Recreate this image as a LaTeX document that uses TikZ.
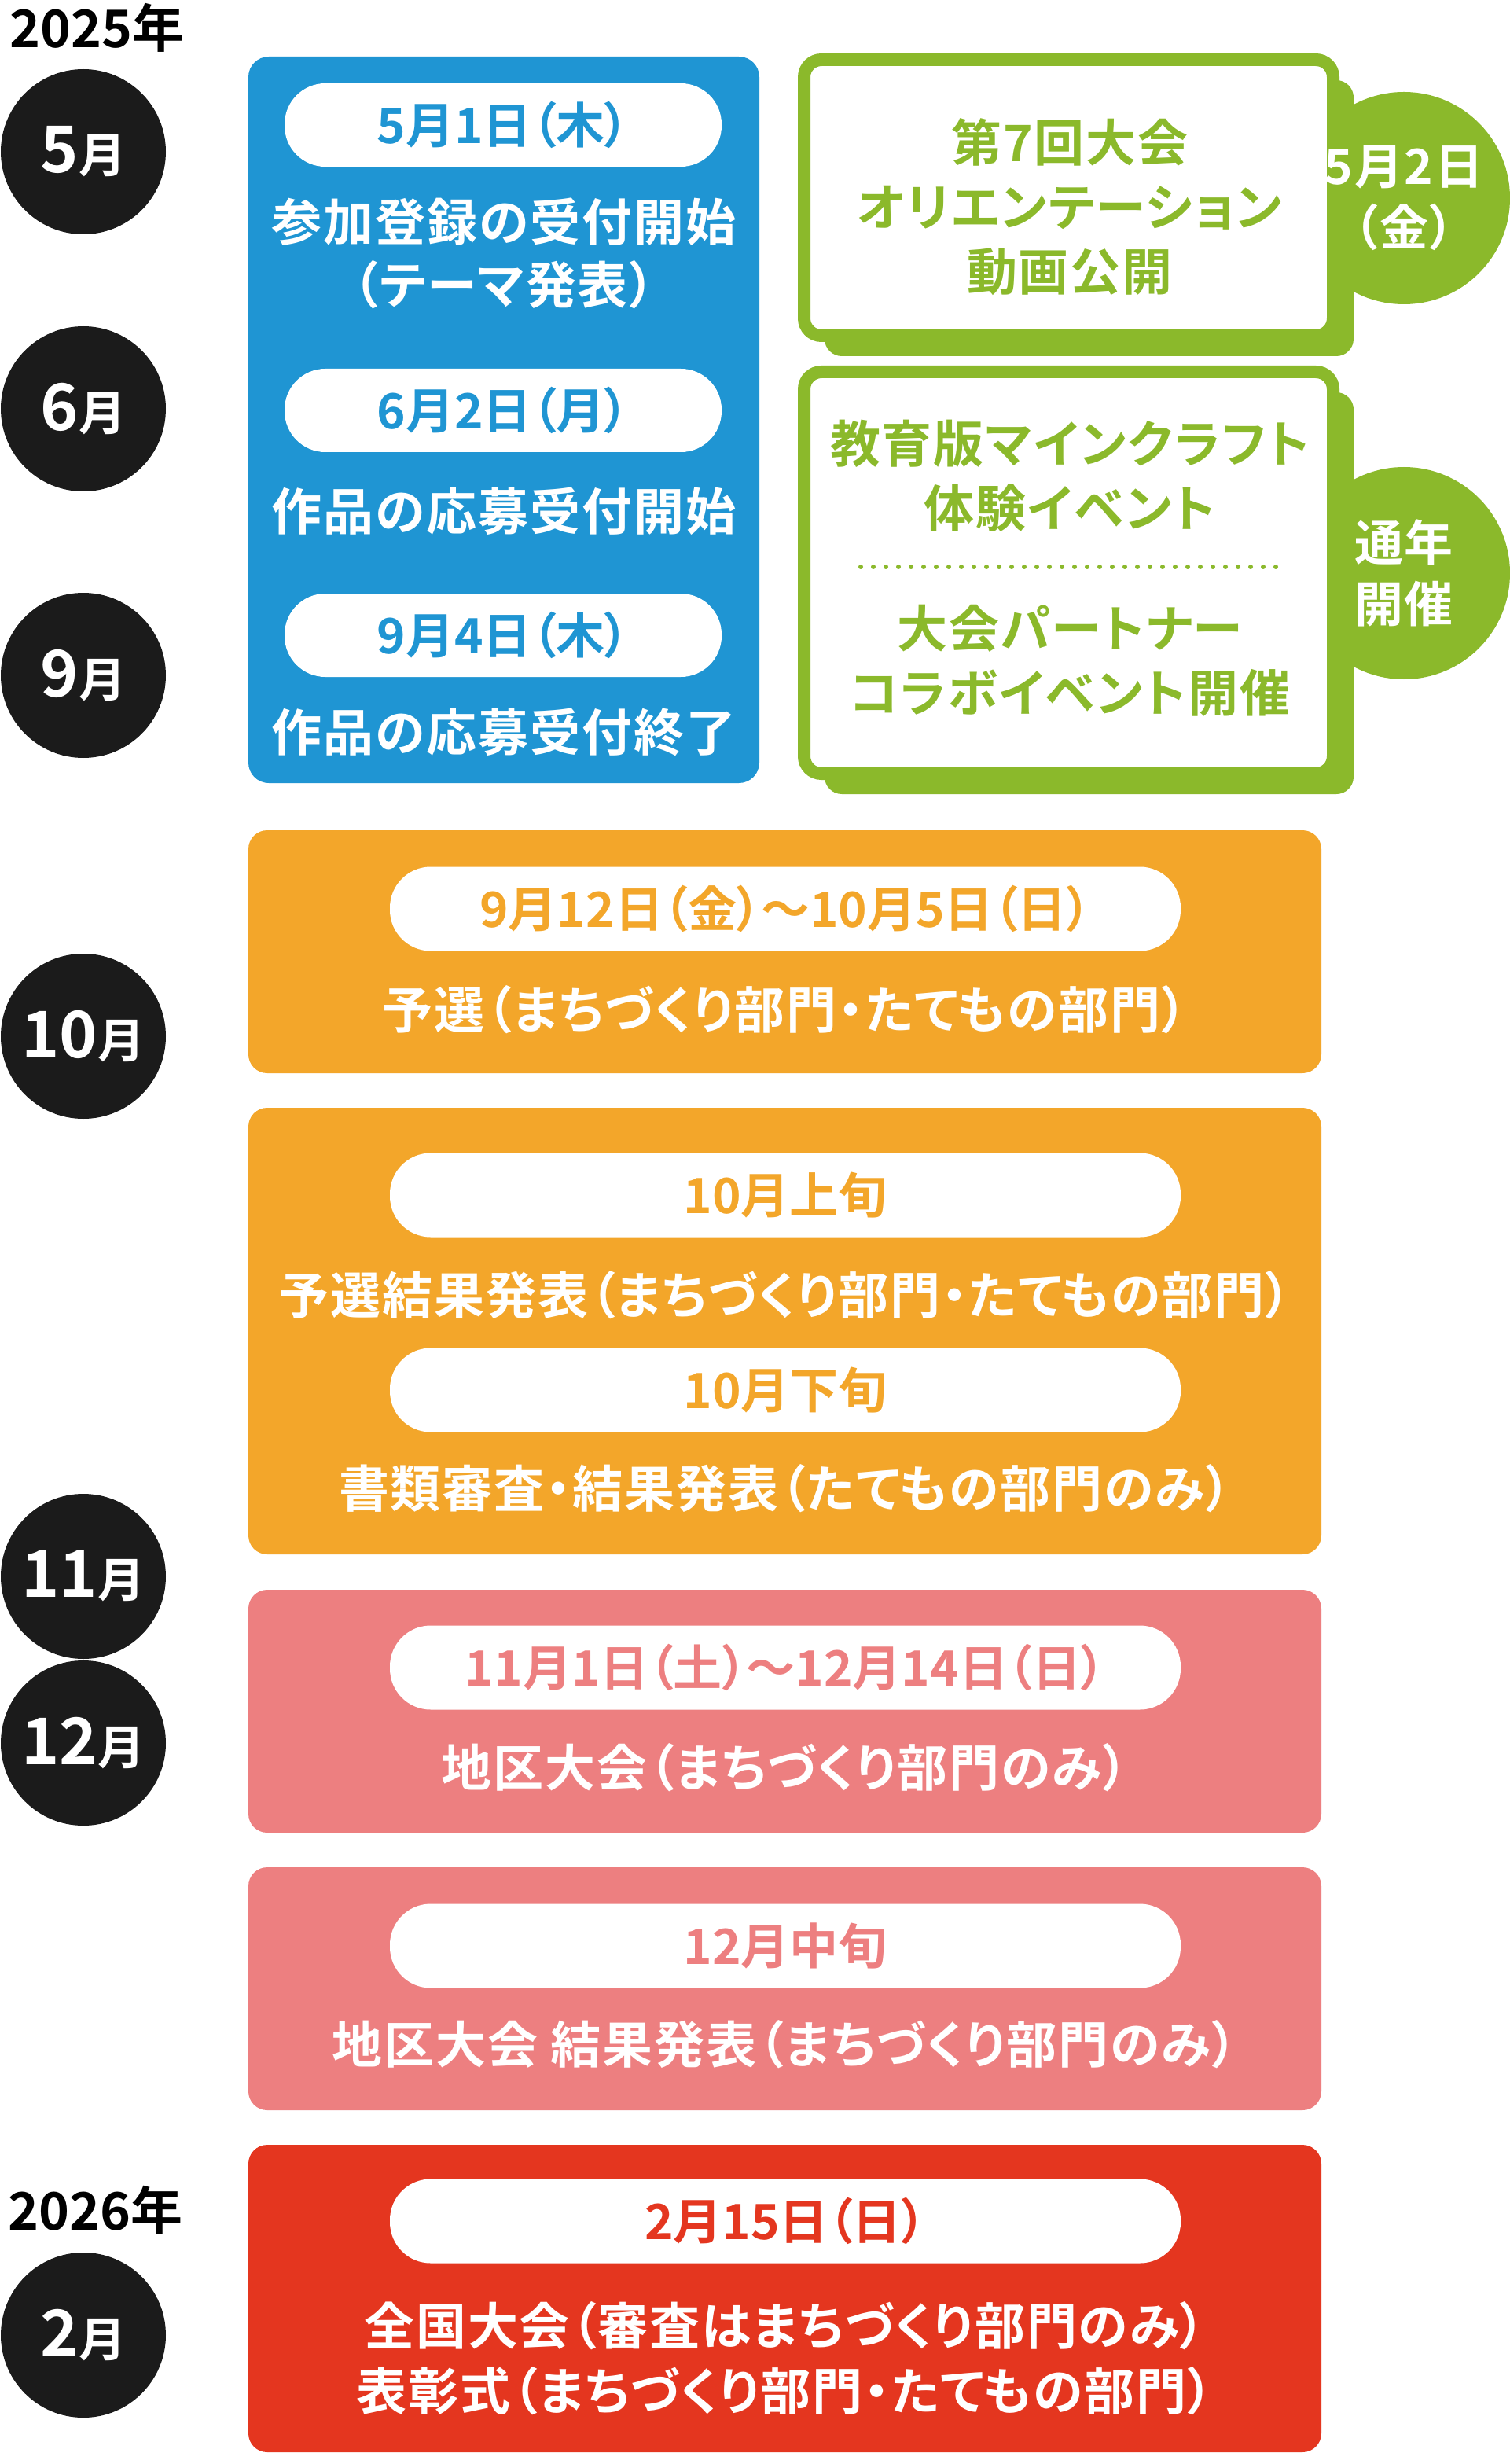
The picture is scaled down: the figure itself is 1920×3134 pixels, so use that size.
\documentclass[tikz,border=0pt]{standalone}
\usepackage{fontspec}
\setmainfont{Noto Sans CJK JP}[BoldFont={Noto Sans CJK JP Bold},RawFeature={+palt}]
\newfontfamily\jpwide{Noto Sans CJK JP}[BoldFont={Noto Sans CJK JP Bold},RawFeature={+palt},LetterSpace=3]
\usetikzlibrary{positioning, backgrounds, shadows}
\definecolor{cblue}{HTML}{1F95D3}
\definecolor{cgreen}{HTML}{8BB92B}
\definecolor{corange}{HTML}{F3A62A}
\definecolor{cpink}{HTML}{ED7F80}
\definecolor{cred}{HTML}{E4361F}
\definecolor{cblack}{HTML}{1B1B1B}
\definecolor{cgrey}{HTML}{E8E8E8}
\newcommand{\mnum}[1]{{\fontsize{20.5pt}{24pt}\selectfont #1}}
\tikzset{%
	month/.style={circle, fill=cblack, minimum size=52.5pt, inner sep=0pt, text=white,%
		font=\bfseries\fontsize{15pt}{18pt}\selectfont},
	year/.style={anchor=west, inner sep=0pt, font=\bfseries\fontsize{16.5pt}{20pt}\selectfont},
	tl/.style={line width=3pt, draw=cgrey},
	box/.style={rectangle, rounded corners=6pt, inner sep=0pt, minimum width=341.25pt},
	pill/.style={rectangle, rounded corners=13pt, fill=white, minimum width=139pt,%
		minimum height=26.5pt, inner sep=0pt, font=\bfseries\fontsize{15.5pt}{18pt}\selectfont},
	wide/.style={minimum width=251.5pt, minimum height=26.75pt},
	txt/.style={text=white, align=center, inner sep=0pt, font=\jpwide\bfseries\fontsize{16pt}{20.75pt}\selectfont},
	gbox/.style={rectangle, rounded corners=5.5pt, draw=cgreen, line width=4pt, fill=white,%
		minimum width=168.25pt, drop shadow={shadow xshift=6.5pt, shadow yshift=-6.5pt, opacity=1, fill=cgreen}},
	gcirc/.style={circle, fill=cgreen, minimum size=67.5pt, inner sep=0pt},
	gctxt/.style={text=white, align=center, inner sep=0pt, font=\jpwide\bfseries\fontsize{15.5pt}{19.5pt}\selectfont},
	gtxt/.style={text=cgreen, align=center, inner sep=0pt, font=\jpwide\bfseries\fontsize{16pt}{20.5pt}\selectfont},
	dotsep/.style={draw=cgreen, line width=1.5pt, line cap=round, dash pattern=on 0pt off 4pt}
}
\begin{document}
\begin{tikzpicture}[x=0.25pt, y=-0.25pt]
	\path[use as bounding box, fill=white] (0,0) rectangle (1920,3134);

	% months
	\node[year] (y25) at (12,35) {2025年};
	\node[month] (m5) at (106,193) {\mnum{5}月};
	\node[month] (m6) at (106,520) {\mnum{6}月};
	\node[month] (m9) at (106,859) {\mnum{9}月};
	\node[month] (m10) at (106,1318) {\mnum{10}月};
	\node[month] (m11) at (106,2005) {\mnum{11}月};
	\node[month] (m12) at (106,2217) {\mnum{12}月};
	\node[year] (y26) at (10,2811) {2026年};
	\node[month] (m2) at (106,2970) {\mnum{2}月};

	% entry
	\node[box, fill=cblue, minimum width=162.5pt, minimum height=231pt, rounded corners=6.5pt] (bl) at (641,534) {};
	\node[pill, text=cblue] (d51) at (640,159) {5月1日（木）};
	\node[txt, font=\jpwide\bfseries\fontsize{16pt}{20pt}\selectfont] (t51) at (641,322) {参加登録の受付開始\\（テーマ発表）};
	\node[pill, text=cblue] (d62) at (640,522) {6月2日（月）};
	\node[txt] (t62) at (641,650) {作品の応募受付開始};
	\node[pill, text=cblue] (d94) at (640,808) {9月4日（木）};
	\node[txt] (t94) at (641,931) {作品の応募受付終了};

	% events
	\node[gcirc] (c52) at (1786,252) {};
	\node[gbox, minimum height=87.75pt] (g1) at (1359.5,251.5) {};
	\node[gctxt] (l52) at (c52) {5月2日\\（金）};
	\node[gtxt] (t52) at (1361,263) {第7回大会\\オリエンテーション\\動画公開};
	\node[gcirc] (call) at (1786,729) {};
	\node[gbox, minimum height=127.75pt] (g2) at (1359.5,728.5) {};
	\node[gctxt] (lall) at (call) {通年\\開催};
	\node[gtxt] (tmc) at (1361,605) {教育版マインクラフト\\体験イベント};
	\draw[dotsep] (1095,721) -- (1627,721);
	\node[gtxt] (tpt) at (1361,840) {大会パートナー\\コラボイベント開催};

	% preliminaries
	\node[box, fill=corange, minimum height=77.25pt] (o1) at (998.5,1210.5) {};
	\node[pill, wide, text=corange] (d912) at (999,1156) {9月12日（金）～10月5日（日）};
	\node[txt] (t912) at (998.5,1284) {予選（まちづくり部門・たてもの部門）};
	\node[box, fill=corange, minimum height=142pt] (o2) at (998.5,1693) {};
	\node[pill, wide, text=corange] (d10a) at (999,1520) {10月上旬};
	\node[txt] (t10a) at (998.5,1647) {予選結果発表（まちづくり部門・たてもの部門）};
	\node[pill, wide, text=corange] (d10b) at (999,1768) {10月下旬};
	\node[txt] (t10b) at (998.5,1893) {書類審査・結果発表（たてもの部門のみ）};

	% district
	\node[box, fill=cpink, minimum height=77.25pt] (p1) at (998.5,2176.5) {};
	\node[pill, wide, text=cpink] (d111) at (999,2121) {11月1日（土）～12月14日（日）};
	\node[txt] (t111) at (998.5,2248) {地区大会（まちづくり部門のみ）};
	\node[box, fill=cpink, minimum height=77.25pt] (p2) at (998.5,2529.5) {};
	\node[pill, wide, text=cpink] (d12) at (999,2475) {12月中旬};
	\node[txt] (t12) at (998.5,2600) {地区大会 結果発表（まちづくり部門のみ）};

	% final
	\node[box, fill=cred, minimum height=97.75pt] (r1) at (998.5,2923.5) {};
	\node[pill, wide, text=cred] (d215) at (999,2825) {2月15日（日）};
	\node[txt] (t215) at (998.5,3000) {全国大会（審査はまちづくり部門のみ）\\表彰式（まちづくり部門・たてもの部門）};

	\begin{scope}[on background layer]
		\draw[tl] (m5) -- (m5 -| g1.west);
		\draw[tl] (m6) -- (m6 -| g2.west);
		\draw[tl] (m9) -- (m9 -| g2.west);
		\draw[tl] (m10) -- (m10 -| o1.west);
		\draw[tl] (m11) -- (m11 -| o2.east);
		\draw[tl] (m12) -- (m12 -| p1.west);
		\draw[tl] (m2) -- (m2 -| r1.west);
	\end{scope}
\end{tikzpicture}
\end{document}
